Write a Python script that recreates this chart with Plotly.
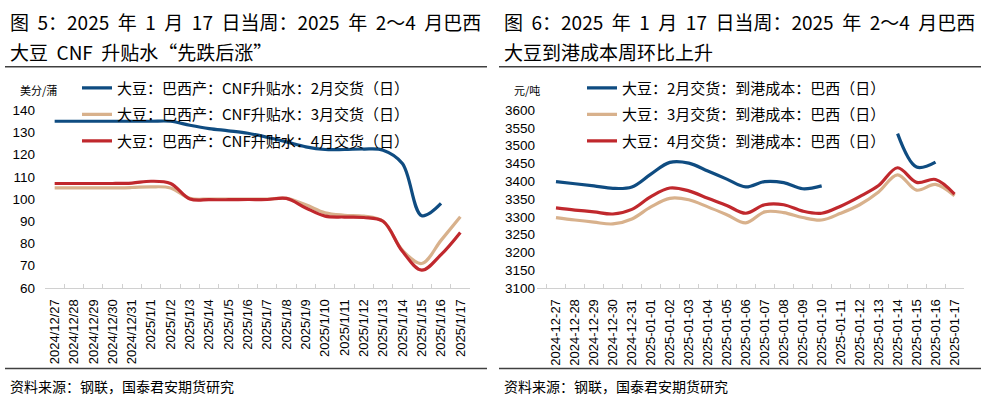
import plotly.graph_objects as go

W, H = 988, 415


def px(x):
    return x / W


def py(y):
    return 1 - y / H


# ---------------- data ----------------
dates_left = ["2024/12/27", "2024/12/28", "2024/12/29", "2024/12/30", "2024/12/31",
              "2025/1/1", "2025/1/2", "2025/1/3", "2025/1/4", "2025/1/5", "2025/1/6",
              "2025/1/7", "2025/1/8", "2025/1/9", "2025/1/10", "2025/1/11", "2025/1/12",
              "2025/1/13", "2025/1/14", "2025/1/15", "2025/1/16", "2025/1/17"]
dates_right = ["2024-12-27", "2024-12-28", "2024-12-29", "2024-12-30", "2024-12-31",
               "2025-01-01", "2025-01-02", "2025-01-03", "2025-01-04", "2025-01-05", "2025-01-06",
               "2025-01-07", "2025-01-08", "2025-01-09", "2025-01-10", "2025-01-11", "2025-01-12",
               "2025-01-13", "2025-01-14", "2025-01-15", "2025-01-16", "2025-01-17"]

cnf_feb = [135, 135, 135, 135, 135, 135, 135, 133.2, 131.7, 130.7, 129.6, 127.8, 125.7,
           123.5, 122.3, 122.3, 122.5, 122, 116, 92.5, 98, None]
cnf_mar = [105, 105, 105, 105, 105.2, 105.5, 105, 100.3, 100, 100, 100, 100, 100.3,
           97.4, 93.8, 92.7, 92.3, 90, 77, 71, 81.4, 92]
cnf_apr = [107, 107, 107, 107, 107.2, 108, 107, 100, 99.7, 99.7, 99.8, 99.8, 100.3,
           96, 92.3, 91.9, 91.7, 90, 76.5, 68, 75, 85]

cost_feb = [3399, 3393, 3387, 3380, 3384, 3420, 3453, 3451, 3429, 3406, 3384, 3399, 3396,
            3379, 3387, None, None, None, 3534, 3440, 3454, None]
cost_mar = [3298, 3291, 3285, 3280, 3294, 3328, 3352, 3348, 3328, 3306, 3283, 3314, 3312,
            3298, 3291, 3310, 3334, 3370, 3418, 3375, 3391, 3359]
cost_apr = [3325, 3319, 3314, 3308, 3321, 3357, 3381, 3373, 3352, 3332, 3310, 3334, 3334,
            3316, 3310, 3330, 3357, 3388, 3438, 3397, 3405, 3364]

names_left = ["大豆：巴西产：CNF升贴水：2月交货（日）",
              "大豆：巴西产：CNF升贴水：3月交货（日）",
              "大豆：巴西产：CNF升贴水：4月交货（日）"]
names_right = ["大豆：2月交货：到港成本：巴西（日）",
               "大豆：3月交货：到港成本：巴西（日）",
               "大豆：4月交货：到港成本：巴西（日）"]

left_ticks = [60, 70, 80, 90, 100, 110, 120, 130, 140]
right_ticks = [3100, 3150, 3200, 3250, 3300, 3350, 3400, 3450, 3500, 3550, 3600]

colors = ["#0f4c81", "#d8b18c", "#c0282d"]

CJK = "Noto Sans CJK SC"
LAT = "Liberation Sans, Arial"
SP = "\u00a0\u00a0"

fig = go.Figure()

for i, ys in enumerate([cnf_feb, cnf_mar, cnf_apr]):
    fig.add_trace(go.Scatter(
        x=dates_left, y=ys, name=names_left[i], mode="lines",
        line=dict(color=colors[i], width=3.2, shape="spline", smoothing=1.0),
        connectgaps=False, xaxis="x", yaxis="y", legend="legend",
        legendgroup="l%d" % i, hoverinfo="skip"))

for i, ys in enumerate([cost_feb, cost_mar, cost_apr]):
    fig.add_trace(go.Scatter(
        x=dates_right, y=ys, name=names_right[i], mode="lines",
        line=dict(color=colors[i], width=3.2, shape="spline", smoothing=1.0),
        connectgaps=False, xaxis="x2", yaxis="y2", legend="legend2",
        legendgroup="r%d" % i, hoverinfo="skip"))

ydom = [py(291.5), py(107)]

axis_common = dict(
    type="category", showgrid=False, zeroline=False,
    showline=True, linecolor="#d0d0d0", linewidth=1,
    ticks="inside", ticklen=4, tickcolor="#d0d0d0", tickson="boundaries",
    tickangle=-90, ticklabelstandoff=5,
    tickfont=dict(family=LAT, size=13, color="#000000"),
)

legend_common = dict(xanchor="left", yanchor="top", bgcolor="rgba(0,0,0,0)",
                     tracegroupgap=4, itemwidth=30, traceorder="grouped",
                     font=dict(family=CJK, size=15, color="#000000"))

fig.update_layout(
    width=W, height=H,
    margin=dict(l=0, r=0, t=0, b=0),
    paper_bgcolor="white", plot_bgcolor="rgba(0,0,0,0)",
    showlegend=True,
    xaxis=dict(domain=[px(45), px(470)], anchor="y", categoryorder="array",
               categoryarray=dates_left, range=[-0.5, 21.5], **axis_common),
    yaxis=dict(domain=ydom, anchor="x", range=[60, 140], tickvals=left_ticks,
               showgrid=False, zeroline=False, showline=False, ticks="",
               ticklabelstandoff=9,
               tickfont=dict(family=LAT, size=13.5, color="#000000")),
    xaxis2=dict(domain=[px(537), px(964)], anchor="y2", categoryorder="array",
                categoryarray=dates_right, range=[-1.0, 21.5], **axis_common),
    yaxis2=dict(domain=ydom, anchor="x2", range=[3100, 3600], tickvals=right_ticks,
                showgrid=False, zeroline=False, showline=False, ticks="",
                ticklabelstandoff=1,
                tickfont=dict(family=LAT, size=13.5, color="#000000")),
    legend=dict(x=px(77), y=py(67), **legend_common),
    legend2=dict(x=px(582), y=py(67), **legend_common),
)

# titles
title_font = dict(family=CJK, size=19, color="#000000")
anns = [
    (8, 15, "图" + SP + "5：2025" + SP + "年" + SP + "1" + SP + "月" + SP + "17" + SP
     + "日当周：2025" + SP + "年" + SP + "2～4" + SP + "月巴西"),
    (8, 46, "大豆" + SP + "CNF" + SP + "升贴水“先跌后涨”"),
    (502, 15, "图" + SP + "6：2025" + SP + "年" + SP + "1" + SP + "月" + SP + "17" + SP
     + "日当周：2025" + SP + "年" + SP + "2～4" + SP + "月巴西"),
    (502, 46, "大豆到港成本周环比上升"),
]
for x, y, t in anns:
    fig.add_annotation(x=px(x), y=py(y), xref="paper", yref="paper", text=t,
                       showarrow=False, xanchor="left", yanchor="middle", font=title_font)

src_font = dict(family=CJK, size=14, color="#000000")
for x in (8, 502):
    fig.add_annotation(x=px(x), y=py(393), xref="paper", yref="paper",
                       text="资料来源：钢联，国泰君安期货研究", showarrow=False,
                       xanchor="left", yanchor="middle", font=src_font)

unit_font = dict(family=CJK, size=11, color="#000000")
fig.add_annotation(x=px(18), y=py(86), xref="paper", yref="paper", text="美分/蒲",
                   showarrow=False, xanchor="left", yanchor="middle", font=unit_font)
fig.add_annotation(x=px(512), y=py(86), xref="paper", yref="paper", text="元/吨",
                   showarrow=False, xanchor="left", yanchor="middle", font=unit_font)

# separator lines
for x0, x1 in ((5, 487), (499, 981)):
    for yy in (62, 375):
        fig.add_shape(type="line", xref="paper", yref="paper", x0=px(x0), x1=px(x1),
                      y0=py(yy), y1=py(yy),
                      line=dict(color="#404040", width=1.5))

# remove the default page margin so the figure fills the window exactly
fig.write_html("out.html", config={"displayModeBar": False},
               post_script="document.body.style.margin='0';")
